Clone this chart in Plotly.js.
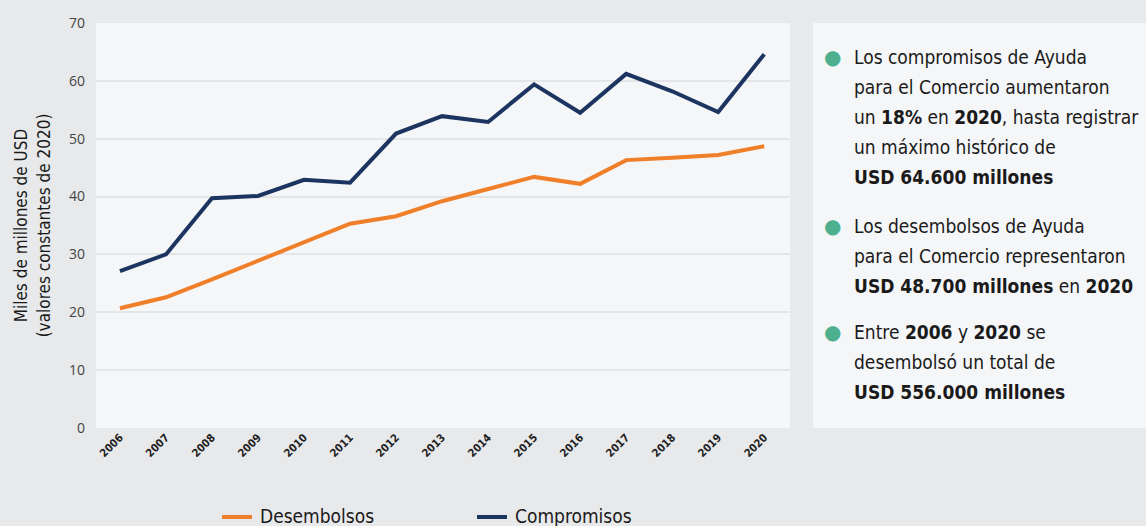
<!DOCTYPE html>
<html>
<head>
<meta charset="utf-8">
<script src="https://cdn.plot.ly/plotly-3.0.1.min.js"></script>
<style>html,body{margin:0;padding:0;background:#e8e9eb;}#chart{width:1146px;height:526px;}</style>
</head>
<body>
<div id="chart"></div>
<script>
var years = [2006,2007,2008,2009,2010,2011,2012,2013,2014,2015,2016,2017,2018,2019,2020];
var desembolsos = [20.7,22.6,25.7,28.9,32.0,35.3,36.6,39.2,41.3,43.4,42.2,46.3,46.7,47.2,48.7];
var compromisos = [27.1,30.0,39.7,40.1,42.9,42.4,50.9,53.9,52.9,59.4,54.5,61.2,58.2,54.6,64.6];
var yTicks = [0,10,20,30,40,50,60,70];
var seriesNames = ["Desembolsos","Compromisos"];
var seriesColors = ['#f07f2a','#1c3560'];
var notes = [
  ["Los compromisos de Ayuda","para el Comercio aumentaron","un <b>18%</b> en <b>2020</b>, hasta registrar","un máximo histórico de","<b>USD 64.600 millones</b>"],
  ["Los desembolsos de Ayuda","para el Comercio representaron","<b>USD 48.700 millones</b> en <b>2020</b>"],
  ["Entre <b>2006</b> y <b>2020</b> se","desembolsó un total de","<b>USD 556.000 millones</b>"]
];

var FONT = "'DejaVu Sans Condensed','Liberation Sans Narrow',sans-serif";
var H = 405, TOP = 23, LEFT = 96, W = 694;
function py(pix){ return 1 - (pix - TOP)/H; }
function px(pix){ return (pix - LEFT)/W; }

var traces = [
  {x: years, y: desembolsos, name: seriesNames[0], type:'scatter', mode:'lines',
   line:{color:seriesColors[0], width:4}, showlegend:false},
  {x: years, y: compromisos, name: seriesNames[1], type:'scatter', mode:'lines',
   line:{color:seriesColors[1], width:4}, showlegend:false}
];

var annotations = [];
var shapes = [{type:'rect', xref:'paper', yref:'paper', x0:px(813), x1:px(1146), y0:py(428), y1:1,
    fillcolor:'#f5f6f8', line:{width:0}, layer:'below'}];

var blockTops = [57, 226, 332];
notes.forEach(function(block, bi){
  annotations.push({xref:'paper', yref:'paper', x:px(832), y:py(blockTops[bi]), text:'●',
    showarrow:false, xanchor:'center', yanchor:'middle', font:{size:20, color:'#4daf8e', family:'DejaVu Sans'}});
  block.forEach(function(line, li){
    annotations.push({xref:'paper', yref:'paper', x:px(852), y:py(blockTops[bi] + li*30), text:line,
      showarrow:false, xanchor:'left', yanchor:'middle', font:{size:19, color:'#1a1a1a', family:FONT}});
  });
});

// legend (drawn as shapes + annotations)
var legX = [222, 477];
seriesNames.forEach(function(n, i){
  shapes.push({type:'line', xref:'paper', yref:'paper', x0:px(legX[i]), x1:px(legX[i]+30), y0:py(517), y1:py(517),
    line:{color:seriesColors[i], width:4}});
  annotations.push({xref:'paper', yref:'paper', x:px(legX[i]+36), y:py(516), text:n, showarrow:false,
    xanchor:'left', yanchor:'middle', font:{size:19, color:'#1a1a1a', family:FONT}});
});

var layout = {
  width:1146, height:526,
  margin:{l:96, r:356, t:23, b:98},
  paper_bgcolor:'#e8e9eb', plot_bgcolor:'#f5f6f8',
  showlegend:false,
  xaxis:{type:'linear', range:[2005.48, 2020.56], tickvals:years, ticktext:years.map(function(v){return '<b>'+v+'</b>';}),
    tickangle:-45, showgrid:false, zeroline:false, showline:false, ticks:'',
    tickfont:{size:11, color:'#222', family:FONT}, fixedrange:true, automargin:false},
  yaxis:{range:[0,70], tickvals:yTicks, showgrid:true, gridcolor:'#e4e5e7', gridwidth:2, zeroline:false, showline:false,
    ticks:'', ticklabelstandoff:10, tickfont:{size:14, color:'#444', family:"'Open Sans',sans-serif"}, automargin:false,
    title:{text:'Miles de millones de USD<br>(valores constantes de 2020)', font:{size:17, color:'#1a1a1a', family:FONT}, standoff:14}},
  shapes: shapes,
  annotations: annotations
};

Plotly.newPlot('chart', traces, layout, {displayModeBar:false, staticPlot:true});
</script>
</body>
</html>
